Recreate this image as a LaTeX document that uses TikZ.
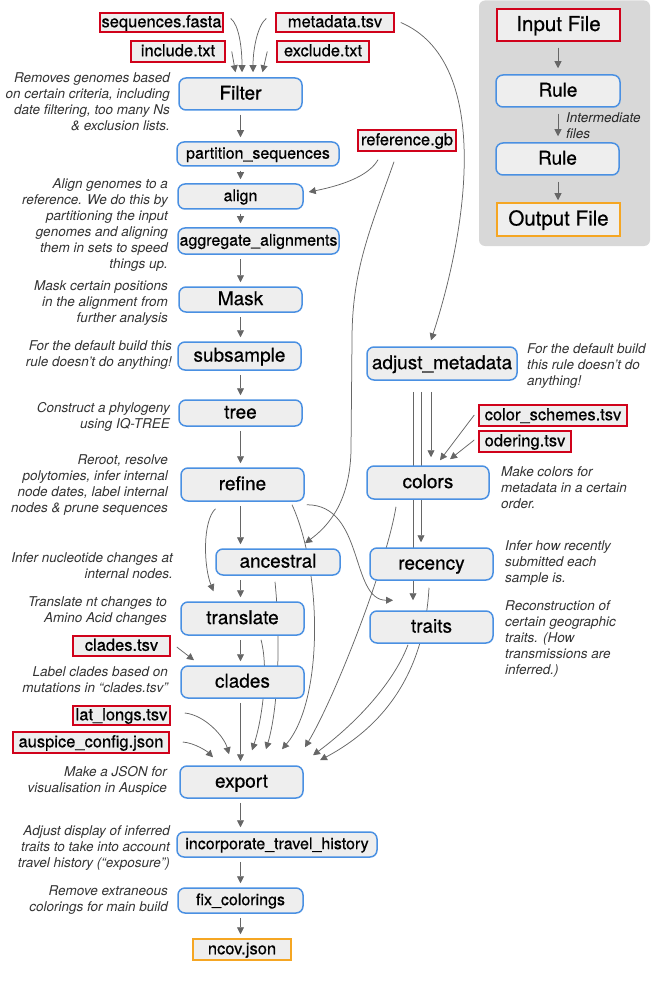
\documentclass[tikz,border=0pt]{standalone}
\usepackage{fontspec}
\setmainfont{TeX Gyre Heros}
\newfontfamily\medfont[FakeBold=0.6]{TeX Gyre Heros}
\usetikzlibrary{arrows.meta,backgrounds}

\definecolor{ruleblue}{HTML}{4A90E2}
\definecolor{filered}{HTML}{D0021B}
\definecolor{outorange}{HTML}{F5A623}
\definecolor{boxgray}{HTML}{EEEEEE}
\definecolor{legendgray}{HTML}{D8D8D8}
\definecolor{arrowgray}{HTML}{666666}
\definecolor{notegray}{HTML}{333333}

\tikzset{
    rulebox/.style={draw=ruleblue, fill=boxgray, line width=1.5pt, rounded corners=7pt,
        inner sep=0pt, text height=13.7pt, text depth=2.5pt, font=\medfont\fontsize{19}{20}\selectfont},
    smallrule/.style={rulebox, text height=11.5pt, text depth=2.2pt, font=\medfont\fontsize{16}{17}\selectfont},
    filebox/.style={draw=filered, fill=boxgray, line width=1.5pt, inner sep=0pt,
        text height=11.9pt, text depth=2.4pt, font=\medfont\fontsize{16.5}{17}\selectfont},
    outbox/.style={filebox, draw=outorange},
    keybox/.style={text height=14.8pt, text depth=2.8pt, font=\medfont\fontsize{20.5}{21}\selectfont},
    note/.style={font=\fontsize{13.5}{16}\selectfont\itshape, text=notegray, inner sep=0pt},
    rnote/.style={note, align=right, anchor=east},
    lnote/.style={note, align=left, anchor=west},
    flow/.style={draw=arrowgray, line width=0.75pt, -{Triangle[length=7pt,width=7pt]}},
    downarrow/.style={flow, shorten <=4pt, shorten >=4pt},
}

\begin{document}
\begin{tikzpicture}[x=1pt,y=-1pt]
    \useasboundingbox (0,0) rectangle (650,1000);

    % input files
    \node[filebox, minimum width=123pt, minimum height=19pt] (seqs) at (161.5,22.5) {sequences.fasta};
    \node[filebox, minimum width=118pt, minimum height=19pt] (meta) at (335,22.5) {metadata.tsv};
    \node[filebox, minimum width=94pt, minimum height=21pt] (incl) at (178,51.5) {include.txt};
    \node[filebox, minimum width=92pt, minimum height=21pt] (excl) at (323,51.5) {exclude.txt};
    \node[filebox, minimum width=98pt, minimum height=21pt] (refgb) at (407,140.5) {reference.gb};
    \node[filebox, minimum width=148pt, minimum height=21pt] (cscheme) at (553,415.5) {color\_schemes.tsv};
    \node[filebox, minimum width=92pt, minimum height=21pt] (ordering) at (525,441.5) {odering.tsv};
    \node[filebox, minimum width=97pt, minimum height=20pt] (cladestsv) at (121.5,646) {clades.tsv};
    \node[filebox, minimum width=97pt, minimum height=19pt] (latlong) at (121.5,715.5) {lat\_longs.tsv};
    \node[filebox, minimum width=156pt, minimum height=21pt] (auspice) at (91,742.5) {auspice\_config.json};

    % rules, main column
    \node[rulebox, minimum width=123pt, minimum height=32pt] (filter) at (240.5,94) {Filter};
    \node[smallrule, minimum width=162pt, minimum height=24pt] (partition) at (258,154) {partition\_sequences};
    \node[smallrule, minimum width=125pt, minimum height=25pt] (align) at (240.5,196.5) {align};
    \node[smallrule, minimum width=161pt, minimum height=26pt] (aggregate) at (258.5,241) {aggregate\_alignments};
    \node[rulebox, minimum width=123pt, minimum height=25pt] (mask) at (240.5,299.5) {Mask};
    \node[rulebox, minimum width=123pt, minimum height=28pt] (subsample) at (239.5,356) {subsample};
    \node[rulebox, minimum width=123pt, minimum height=26pt] (tree) at (240.5,413) {tree};
    \node[rulebox, minimum width=123pt, minimum height=33pt] (refine) at (242.5,484.5) {refine};
    \node[rulebox, minimum width=124pt, minimum height=26pt] (ancestral) at (278,562) {ancestral};
    \node[rulebox, minimum width=123pt, minimum height=33pt] (translate) at (242.5,618.5) {translate};
    \node[rulebox, minimum width=123pt, minimum height=32pt] (clades) at (242.5,682) {clades};
    \node[rulebox, minimum width=123pt, minimum height=32pt] (export) at (241.5,782) {export};
    \node[smallrule, minimum width=200pt, minimum height=25pt] (travel) at (277,844.5) {incorporate\_travel\_history};
    \node[smallrule, minimum width=125pt, minimum height=25pt] (fixcol) at (240.5,900.5) {fix\_colorings};
    \node[outbox, minimum width=98pt, minimum height=21pt] (ncov) at (242,949.5) {ncov.json};

    % rules, metadata column
    \node[rulebox, minimum width=150pt, minimum height=33pt] (adjust) at (442,363.5) {adjust\_metadata};
    \node[rulebox, minimum width=122pt, minimum height=33pt] (colors) at (428,482.5) {colors};
    \node[rulebox, minimum width=123pt, minimum height=32pt] (recency) at (431.5,564) {recency};
    \node[rulebox, minimum width=123pt, minimum height=32pt] (traits) at (431.5,627) {traits};

    % notes
    \node[rnote] (filternote) at (170,101.5) {Removes genomes based\\on certain criteria, including\\date filtering, too many Ns\\\& exclusion lists.};
    \node[rnote] (alignnote) at (168,225) {Align genomes to a\\reference. We do this by\\partitioning the input\\genomes and aligning\\them in sets to speed\\things up.};
    \node[rnote] (masknote) at (168,303) {Mask certain positions\\in the alignment from\\further analysis};
    \node[rnote] (subsamplenote) at (172,355) {For the default build this\\rule doesn’t do anything!};
    \node[rnote] (treenote) at (170,417) {Construct a phylogeny\\using IQ-TREE};
    \node[rnote] (refinenote) at (168,485) {Reroot, resolve\\polytomies, infer internal\\node dates, label internal\\nodes \& prune sequences};
    \node[rnote] (ancestralnote) at (173,566) {Infer nucleotide changes at\\internal nodes.};
    \node[rnote] (translatenote) at (167,611) {Translate nt changes to\\Amino Acid changes};
    \node[rnote] (cladesnote) at (168,680) {Label clades based on\\mutations in “clades.tsv”};
    \node[rnote] (exportnote) at (167,781) {Make a JSON for\\visualisation in Auspice};
    \node[rnote] (travelnote) at (170,848) {Adjust display of inferred\\traits to take into account\\travel history (“exposure”)};
    \node[rnote] (fixcolnote) at (168,900) {Remove extraneous\\colorings for main build};
    \node[lnote] (adjustnote) at (527,366) {For the default build\\this rule doesn’t do\\anything!};
    \node[lnote] (colorsnote) at (501,488) {Make colors for\\metadata in a certain\\order.};
    \node[lnote] (recencynote) at (505,563) {Infer how recently\\submitted each\\sample is.};
    \node[lnote] (traitsnote) at (505,639) {Reconstruction of\\certain geographic\\traits. (How\\transmissions are\\inferred.)};

    % key
    \node[filebox, keybox, minimum width=123pt, minimum height=32pt] (inputkey) at (558.5,25) {Input File};
    \node[rulebox, minimum width=124pt, minimum height=32pt] (rulekey) at (558,91) {Rule};
    \node[rulebox, minimum width=123pt, minimum height=32pt] (rulekeyb) at (557.5,159) {Rule};
    \node[outbox, keybox, minimum width=123pt, minimum height=33pt] (outputkey) at (558.5,219.5) {Output File};
    \node[lnote, text=black!85] (interkey) at (566,125.5) {Intermediate\\files};

    \begin{pgfonlayer}{background}
        \fill[legendgray, rounded corners=6pt] (479,0.5) rectangle (650,246);
        \draw[flow, shorten <=6pt, shorten >=6pt] (inputkey.south -| rulekey) -- (rulekey.north);
        \draw[flow, shorten <=6pt, shorten >=6pt] (rulekey.south) -- (rulekeyb.north -| rulekey);
        \draw[flow, shorten <=6pt, shorten >=2pt] (rulekeyb.south -| rulekey) -- (outputkey.north -| rulekey);

        % main column
        \foreach \a/\b in {filter/partition, partition/align, align/aggregate, aggregate/mask,
            mask/subsample, subsample/tree, tree/refine, refine/ancestral, ancestral/translate,
            translate/clades, clades/export, export/travel, travel/fixcol, fixcol/ncov}
            \draw[downarrow] (\a.south -| filter) -- (\b.north -| filter);

        % inputs of filter
        \draw[flow] ([shift={(7,-4)}]seqs.east) .. controls +(8,6) and +(0,-25) .. ([shift={(1.5,-5)}]filter.north);
        \draw[flow] ([shift={(-9,-4)}]meta.west) .. controls +(-8,6) and +(0,-25) .. ([shift={(12.5,-5)}]filter.north);
        \draw[flow] ([shift={(6,0)}]incl.east) -- ([shift={(-5,-5)}]filter.north);
        \draw[flow] ([shift={(-9,0)}]excl.west) -- ([shift={(22,-5)}]filter.north);
        \draw[flow] ([shift={(6,0)}]meta.east) .. controls +(89,38) and +(39,-120) .. ([shift={(-11,-6)}]adjust.north);

        % reference
        \draw[flow] ([shift={(-29,8)}]refgb.south) .. controls +(-8,14) and +(40,-8) .. ([shift={(5,-4.5)}]align.east);
        \draw[flow] ([shift={(-13,10)}]refgb.south) .. controls (370,230) and (352,270) .. (352,340)
            -- (351,450) .. controls (350,500) and (330,525) .. ([shift={(27,-5)}]ancestral.north);

        % from refine
        \draw[flow] ([shift={(-27,7)}]refine.south) .. controls +(-13,12) and +(-10,-25) .. ([shift={(-29,-10)}]translate.north);
        \draw[flow] ([shift={(49.5,3)}]refine.south) .. controls (322,570) and (324,700) .. ([shift={(40.5,-16)}]export.north);
        \draw[flow] ([shift={(2,3)}]refine.south east) .. controls +(58,0) and +(-43,0) .. ([shift={(-38.5,-10)}]traits.north);

        % metadata column
        \draw[flow] ([shift={(-11,11)}]adjust.south) -- ([shift={(3,-8)}]colors.north);
        \draw[flow] ([shift={(-21,11)}]adjust.south) -- ([shift={(-10.5,-5)}]recency.north);
        \draw[flow] ([shift={(-29,11)}]adjust.south) -- ([shift={(-18.5,-10)}]traits.north);
        \draw[flow] ([shift={(-4,-0.5)}]cscheme.west) -- ([shift={(12,-5)}]colors.north);
        \draw[flow] ([shift={(-4,-1.5)}]ordering.west) -- ([shift={(22,-6)}]colors.north);

        % clades
        \draw[flow] ([shift={(6,1)}]cladestsv.east) -- ([shift={(-48.5,-5)}]clades.north);

        % inputs of export
        \draw[flow] ([shift={(13,-0.5)}]auspice.east) .. controls +(12,1) and +(-6,-6) .. ([shift={(-28.5,-8)}]export.north);
        \draw[flow] ([shift={(14,-2.5)}]latlong.east) .. controls +(20,2) and +(-5,-18) .. ([shift={(-12.5,-11)}]export.north);
        \draw[flow] ([shift={(18.5,4)}]translate.south) .. controls +(8,30) and +(10,-30) .. ([shift={(10.5,-15)}]export.north);
        \draw[flow] ([shift={(-3,6)}]ancestral.south) .. controls +(6,60) and +(12,-40) .. ([shift={(24.5,-16)}]export.north);
        \draw[flow] ([shift={(-32,7)}]colors.south) .. controls +(-10,60) and +(30,-50) .. ([shift={(63.5,-18)}]export.north);
        \draw[flow] ([shift={(-2.5,7)}]recency.south) .. controls +(-4,72) and +(75,-40) .. ([shift={(78.5,-5)}]export.north);
        \draw[flow] ([shift={(-23.5,1)}]traits.south) .. controls +(-13,35) and +(47,-35) .. ([shift={(71.5,-10)}]export.north);
    \end{pgfonlayer}
\end{tikzpicture}
\end{document}
